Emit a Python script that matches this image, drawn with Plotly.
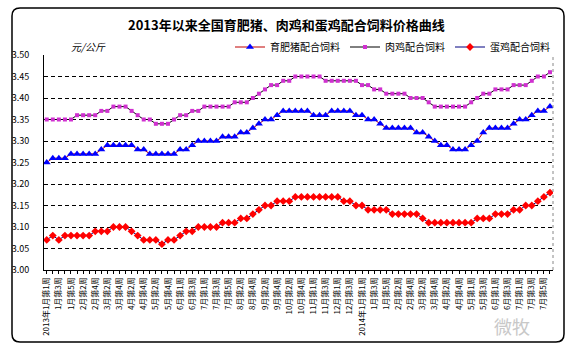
import plotly.graph_objects as go

# ---------------- data ----------------
weeks = [
    "2013年1月第1周", "1月第2周", "1月第3周", "1月第4周", "1月第5周",
    "2月第1周", "2月第2周", "2月第3周", "2月第4周",
    "3月第1周", "3月第2周", "3月第3周", "3月第4周",
    "4月第1周", "4月第2周", "4月第3周", "4月第4周",
    "5月第1周", "5月第2周", "5月第3周", "5月第4周", "5月第5周",
    "6月第1周", "6月第2周", "6月第3周", "6月第4周",
    "7月第1周", "7月第2周", "7月第3周", "7月第4周", "7月第5周",
    "8月第1周", "8月第2周", "8月第3周", "8月第4周",
    "9月第1周", "9月第2周", "9月第3周", "9月第4周",
    "10月第1周", "10月第2周", "10月第3周", "10月第4周", "10月第5周",
    "11月第1周", "11月第2周", "11月第3周", "11月第4周",
    "12月第1周", "12月第2周", "12月第3周", "12月第4周",
    "2014年1月第1周", "1月第2周 ", "1月第3周 ", "1月第4周 ", "1月第5周 ",
    "2月第1周 ", "2月第2周 ", "2月第3周 ", "2月第4周 ",
    "3月第1周 ", "3月第2周 ", "3月第3周 ", "3月第4周 ",
    "4月第1周 ", "4月第2周 ", "4月第3周 ", "4月第4周 ", "4月第5周 ",
    "5月第1周 ", "5月第2周 ", "5月第3周 ", "5月第4周 ",
    "6月第1周 ", "6月第2周 ", "6月第3周 ", "6月第4周 ",
    "7月第1周 ", "7月第2周 ", "7月第3周 ", "7月第4周 ", "7月第5周 ",
    "8月第1周 ",
]

pig_feed = [
    3.25, 3.26, 3.26, 3.26, 3.27, 3.27, 3.27, 3.27, 3.27, 3.28,
    3.29, 3.29, 3.29, 3.29, 3.29, 3.28, 3.28, 3.27, 3.27, 3.27,
    3.27, 3.27, 3.28, 3.28, 3.29, 3.30, 3.30, 3.30, 3.30, 3.31,
    3.31, 3.31, 3.32, 3.32, 3.33, 3.34, 3.35, 3.35, 3.36, 3.37,
    3.37, 3.37, 3.37, 3.37, 3.36, 3.36, 3.36, 3.37, 3.37, 3.37,
    3.37, 3.36, 3.36, 3.35, 3.35, 3.34, 3.33, 3.33, 3.33, 3.33,
    3.33, 3.32, 3.32, 3.31, 3.30, 3.29, 3.29, 3.28, 3.28, 3.28,
    3.29, 3.30, 3.32, 3.33, 3.33, 3.33, 3.33, 3.34, 3.35, 3.35,
    3.36, 3.37, 3.37, 3.38,
]

broiler_feed = [
    3.35, 3.35, 3.35, 3.35, 3.35, 3.36, 3.36, 3.36, 3.36, 3.37,
    3.37, 3.38, 3.38, 3.38, 3.37, 3.36, 3.35, 3.35, 3.34, 3.34,
    3.34, 3.35, 3.36, 3.36, 3.37, 3.37, 3.38, 3.38, 3.38, 3.38,
    3.38, 3.39, 3.39, 3.39, 3.40, 3.41, 3.42, 3.43, 3.43, 3.44,
    3.44, 3.45, 3.45, 3.45, 3.45, 3.45, 3.44, 3.44, 3.44, 3.44,
    3.44, 3.44, 3.43, 3.43, 3.42, 3.42, 3.41, 3.41, 3.41, 3.41,
    3.40, 3.40, 3.40, 3.39, 3.38, 3.38, 3.38, 3.38, 3.38, 3.38,
    3.39, 3.40, 3.41, 3.41, 3.42, 3.42, 3.42, 3.43, 3.43, 3.43,
    3.44, 3.45, 3.45, 3.46,
]

layer_feed = [
    3.07, 3.08, 3.07, 3.08, 3.08, 3.08, 3.08, 3.08, 3.09, 3.09,
    3.09, 3.10, 3.10, 3.10, 3.09, 3.08, 3.07, 3.07, 3.07, 3.06,
    3.07, 3.07, 3.08, 3.09, 3.09, 3.10, 3.10, 3.10, 3.10, 3.11,
    3.11, 3.11, 3.12, 3.12, 3.13, 3.14, 3.15, 3.15, 3.16, 3.16,
    3.16, 3.17, 3.17, 3.17, 3.17, 3.17, 3.17, 3.17, 3.17, 3.16,
    3.16, 3.15, 3.15, 3.14, 3.14, 3.14, 3.14, 3.13, 3.13, 3.13,
    3.13, 3.13, 3.12, 3.11, 3.11, 3.11, 3.11, 3.11, 3.11, 3.11,
    3.11, 3.12, 3.12, 3.12, 3.13, 3.13, 3.13, 3.14, 3.14, 3.15,
    3.15, 3.16, 3.17, 3.18,
]

y_ticks = [3.00, 3.05, 3.10, 3.15, 3.20, 3.25, 3.30, 3.35, 3.40, 3.45, 3.50]

title_text = "2013年以来全国育肥猪、肉鸡和蛋鸡配合饲料价格曲线"
unit_text = "元/公斤"

# ---------------- geometry helpers ----------------
W, H = 570, 353
L, R, T, B = 44, 17, 55, 83
PW, PH = W - L - R, H - T - B


def px(x):
    return (x - L) / PW


def py(y):
    return (H - B - y) / PH


FONT = "Noto Sans CJK SC, Noto Sans, sans-serif"

fig = go.Figure()
fig.add_trace(go.Scatter(
    x=weeks, y=pig_feed, name="育肥猪配合饲料", mode="lines+markers",
    line=dict(color="#C00000", width=1),
    marker=dict(symbol="triangle-up", size=7, color="#0000FF"),
))
fig.add_trace(go.Scatter(
    x=weeks, y=broiler_feed, name="肉鸡配合饲料", mode="lines+markers",
    line=dict(color="#000000", width=1),
    marker=dict(symbol="square", size=4, color="#D030D0"),
))
fig.add_trace(go.Scatter(
    x=weeks, y=layer_feed, name="蛋鸡配合饲料", mode="lines+markers",
    line=dict(color="#000080", width=1),
    marker=dict(symbol="diamond", size=6, color="#FF0000"),
))

ticktext = [w.strip() if i % 2 == 0 else "" for i, w in enumerate(weeks)]

fig.update_xaxes(
    type="category", range=[-0.45, len(weeks) - 0.5],
    tickvals=weeks, ticktext=ticktext, tickangle=-90,
    ticks="outside", ticklen=3, tickcolor="black", tickwidth=1,
    tickfont=dict(size=8, color="black", family=FONT),
    showline=True, linecolor="black", linewidth=1,
    showgrid=False, zeroline=False,
)
fig.update_yaxes(
    range=[3.0, 3.5], tickvals=y_ticks, tickformat=".2f",
    tickfont=dict(size=9, color="black", family=FONT),
    ticklabelstandoff=12,
    showline=True, linecolor="black", linewidth=1,
    showgrid=True, gridcolor="black", gridwidth=1, griddash="4px,3px",
    zeroline=False,
)

# frame with rounded corners (straight edges + corner arcs)
x0, x1, y0, y1, r = 12, 564, 8, 342, 8
path = (
    f"M{px(x0):.5f},{py(y0 + r):.5f} Q{px(x0):.5f},{py(y0):.5f} {px(x0 + r):.5f},{py(y0):.5f} "
    f"L{px(x1 - r):.5f},{py(y0):.5f} Q{px(x1):.5f},{py(y0):.5f} {px(x1):.5f},{py(y0 + r):.5f} "
    f"L{px(x1):.5f},{py(y1 - r):.5f} Q{px(x1):.5f},{py(y1):.5f} {px(x1 - r):.5f},{py(y1):.5f} "
    f"L{px(x0 + r):.5f},{py(y1):.5f} Q{px(x0):.5f},{py(y1):.5f} {px(x0):.5f},{py(y1 - r):.5f} Z"
)
shapes = [
    dict(type="path", xref="paper", yref="paper", path=path,
         line=dict(color="black", width=1.5), layer="above"),
    dict(type="line", xref="paper", yref="paper", x0=1, x1=1, y0=0, y1=1,
         line=dict(color="#888888", width=1, dash="dot")),
]

annotations = [
    dict(text="<b>" + title_text + "</b>", xref="paper", yref="paper",
         x=px(286), y=py(25), showarrow=False, xanchor="center", yanchor="middle",
         font=dict(size=13, color="black", family=FONT)),
    dict(text="<i>" + unit_text + "</i>", xref="paper", yref="paper",
         x=px(88), y=py(46), showarrow=False, xanchor="center", yanchor="middle",
         font=dict(size=10, color="black", family=FONT)),
    dict(text="微牧", xref="paper", yref="paper",
         x=px(512), y=py(326), showarrow=False, xanchor="center", yanchor="middle",
         font=dict(size=18, color="#C8C8C8", family=FONT)),
]

fig.update_layout(
    width=W, height=H,
    margin=dict(l=L, r=R, t=T, b=B, autoexpand=False),
    paper_bgcolor="white", plot_bgcolor="white",
    showlegend=True,
    legend=dict(orientation="h", xref="container", yref="container",
                x=230 / W, y=(H - 47) / H, xanchor="left", yanchor="middle",
                font=dict(size=10, color="black", family=FONT),
                bgcolor="rgba(0,0,0,0)", itemwidth=30, tracegroupgap=0),
    shapes=shapes, annotations=annotations,
    font=dict(family=FONT),
)

fig.write_html("out.html")
